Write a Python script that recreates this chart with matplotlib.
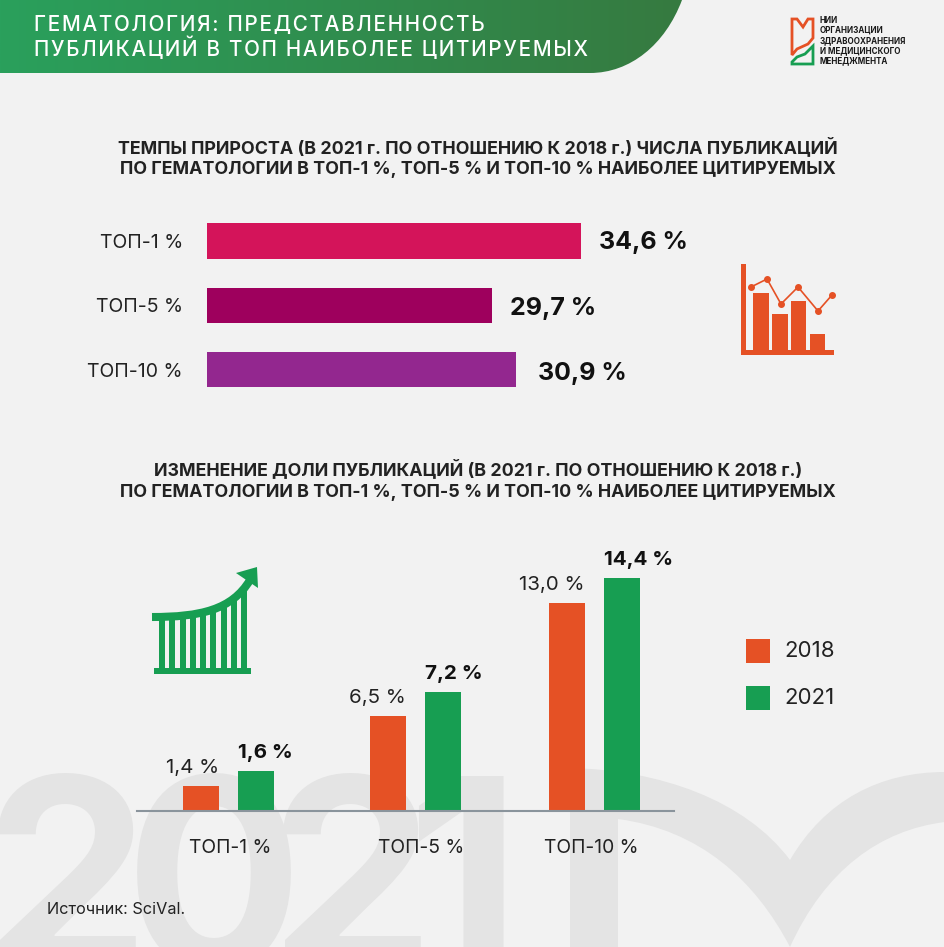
import numpy as np
import matplotlib
matplotlib.use('Agg')
import matplotlib.pyplot as plt
from matplotlib.bezier import BezierSegment
from matplotlib.patches import PathPatch, Polygon, Rectangle
from matplotlib.path import Path
from matplotlib.colors import LinearSegmentedColormap

FONT = 'Inter'
plt.rcParams['font.family'] = [FONT, 'DejaVu Sans']

# --- data ---
top_categories = ['ТОП-1 %', 'ТОП-5 %', 'ТОП-10 %']
top_values = [34.6, 29.7, 30.9]
# the bars in the picture are not to the scale of their labels, so lengths are read off separately
top_lengths = [34.6, 26.4, 28.6]
top_colors = ['#D4145A', '#9E005D', '#93278F']

bottom_categories = ['ТОП-1 %', 'ТОП-5 %', 'ТОП-10 %']
values_2018 = [1.4, 6.5, 13.0]
values_2021 = [1.6, 7.2, 14.4]
heights_2018 = [1.55, 5.87, 12.86]
heights_2021 = [2.47, 7.35, 14.4]
legend_years = ['2018', '2021']

header_lines = ['ГЕМАТОЛОГИЯ: ПРЕДСТАВЛЕННОСТЬ', 'ПУБЛИКАЦИЙ В ТОП НАИБОЛЕЕ ЦИТИРУЕМЫХ']
heading_top = ['ТЕМПЫ ПРИРОСТА (В 2021 г. ПО ОТНОШЕНИЮ К 2018 г.) ЧИСЛА ПУБЛИКАЦИЙ',
               'ПО ГЕМАТОЛОГИИ В ТОП-1 %, ТОП-5 % И ТОП-10 % НАИБОЛЕЕ ЦИТИРУЕМЫХ']
heading_bottom = ['ИЗМЕНЕНИЕ ДОЛИ ПУБЛИКАЦИЙ (В 2021 г. ПО ОТНОШЕНИЮ К 2018 г.)',
                  'ПО ГЕМАТОЛОГИИ В ТОП-1 %, ТОП-5 % И ТОП-10 % НАИБОЛЕЕ ЦИТИРУЕМЫХ']
logo_lines = ['НИИ', 'ОРГАНИЗАЦИИ', 'ЗДРАВООХРАНЕНИЯ', 'И МЕДИЦИНСКОГО', 'МЕНЕДЖМЕНТА']
source_text = 'Источник: SciVal.'

# --- colours ---
BG = '#F2F2F2'
WATERMARK = '#E4E4E4'
ORANGE = '#E55125'
GREEN = '#179E52'

W, H = 945, 947


def fmt(v):
    return f'{v:.1f}'.replace('.', ',') + ' %'


def px_axes(fig, x0, y0, x1, y1, **kw):
    """Оси по пиксельному прямоугольнику (y сверху вниз)."""
    return fig.add_axes([x0 / W, 1 - y1 / H, (x1 - x0) / W, (y1 - y0) / H], **kw)


fig = plt.figure(figsize=(W / 100, H / 100), dpi=100, facecolor=BG)

# overlay in pixel coordinates for everything that is not a chart
bg = fig.add_axes([0, 0, 1, 1], zorder=0)
bg.set_xlim(0, W)
bg.set_ylim(H, 0)
bg.axis('off')

# --- watermark ---
for ch, x in zip('2021', [67, 214, 352, 463]):
    bg.text(x, 968, ch, fontsize=190, fontweight='bold', color=WATERMARK,
            ha='center', va='baseline', clip_on=True)
C4 = Path.CURVE4
mark = Path([(570, 768), (660, 770), (745, 800), (790, 860),
             (825, 800), (880, 772), (945, 772), (945, 822),
             (880, 830), (825, 870), (790, 947),
             (755, 880), (700, 830), (618, 819),
             (618, 947), (570, 947), (570, 768)],
            [Path.MOVETO, C4, C4, C4, C4, C4, C4, Path.LINETO, C4, C4, C4, C4, C4, C4,
             Path.LINETO, Path.LINETO, Path.CLOSEPOLY])
bg.add_patch(PathPatch(mark, fc=WATERMARK, ec='none'))

# --- header with gradient ---
grad = LinearSegmentedColormap.from_list('hdr', ['#2AA05C', '#367A40'])
im = bg.imshow(np.linspace(0, 1, 256).reshape(1, -1), cmap=grad, extent=(0, 682, 73, 0),
               aspect='auto', zorder=2)
hdr_path = Path([(0, 0), (682, 0), (665, 45), (630, 73), (590, 73), (0, 73), (0, 0)],
                [Path.MOVETO, Path.LINETO, C4, C4, C4, Path.LINETO, Path.CLOSEPOLY])
hdr_patch = PathPatch(hdr_path, transform=bg.transData, fc='none', ec='none')
bg.add_patch(hdr_patch)
im.set_clip_path(hdr_patch)
bg.set_xlim(0, W)
bg.set_ylim(H, 0)

for line, y in zip(header_lines, [25, 48]):
    spaced = '\u200a'.join(line)
    bg.text(34, y, spaced, color='white', fontsize=14.9, fontweight='medium', va='center', zorder=3)

# --- logo ---
bg.add_patch(Polygon([(792, 19), (797, 19), (803, 27), (808, 19), (813, 19), (813, 38), (808, 44),
                      (797, 49), (792, 55)],
                     closed=True, fc='none', ec=ORANGE, lw=2, zorder=3))
bg.add_patch(Polygon([(792, 64), (813, 64), (813, 46), (805, 54), (797, 57), (792, 62)],
                     closed=True, fc='none', ec=GREEN, lw=2, zorder=3))
for line, y in zip(logo_lines, [20.5, 30.5, 40.5, 50.5, 60.5]):
    bg.text(820, y, line, fontsize=5.8, fontweight='bold', color='#1A1A1A', va='center', zorder=3)

# --- headings ---
for line, y in zip(heading_top, [147, 169]):
    bg.text(478, y, line, fontsize=12.85, fontweight='bold', color='#222222', ha='center', va='center')
for line, y in zip(heading_bottom, [469, 492]):
    bg.text(478, y, line, fontsize=12.85, fontweight='bold', color='#222222', ha='center', va='center')

# --- orange chart icon ---
bg.add_patch(Rectangle((741, 264), 5, 91, fc=ORANGE, ec='none'))
bg.add_patch(Rectangle((741, 350), 93, 5, fc=ORANGE, ec='none'))
for x0, x1, top in [(753, 769, 293), (772, 788, 314), (791, 806, 301), (810, 825, 334)]:
    bg.add_patch(Rectangle((x0, top), x1 - x0, 350 - top, fc=ORANGE, ec='none'))
bg.plot([751, 767, 781, 798, 818, 832], [287, 279, 304, 287, 311, 295], color=ORANGE, lw=1.2,
        marker='o', ms=4)

# --- green growth icon ---
bg.add_patch(Rectangle((154, 668), 97, 6, fc=GREEN, ec='none'))
curve_pts = [(152, 617), (200, 617), (232, 610), (250, 580)]
bg.add_patch(PathPatch(Path(curve_pts, [Path.MOVETO, C4, C4, C4]), fc='none', ec=GREEN, lw=5.8,
                       capstyle='butt'))
curve_xy = BezierSegment(np.array(curve_pts, dtype=float))(np.linspace(0, 1, 60))
for k in range(9):
    x0 = 159 + k * 10.25
    top = np.interp(x0 + 3, curve_xy[:, 0], curve_xy[:, 1])
    bg.add_patch(Rectangle((x0, top), 6, 669 - top, fc=GREEN, ec='none'))
bg.add_patch(Polygon([(257, 567), (236, 573), (258, 588)], closed=True, fc=GREEN, ec='none'))

# --- legend ---
for year, color, y in zip(legend_years, [ORANGE, GREEN], [651, 698]):
    bg.add_patch(Rectangle((746, y - 12), 24, 24, fc=color, ec='none'))
    bg.text(784, y, year, fontsize=16, color='#222222', va='center')

bg.text(47, 909, source_text, fontsize=11.7, color='#222222', va='center')

# --- top chart ---
ax1 = px_axes(fig, 207, 209, 607, 401.75, zorder=1)
ax1.patch.set_visible(False)
y_pos = np.arange(len(top_categories))
ax1.barh(y_pos, top_lengths, height=0.553, color=top_colors)
ax1.set_xlim(0, 37)
ax1.set_ylim(2.5, -0.5)
ax1.set_yticks(y_pos, top_categories, fontsize=14, color='#222222')
ax1.tick_params(axis='y', length=0, pad=17.3)
ax1.set_xticks([])
for s in ax1.spines.values():
    s.set_visible(False)
for y, length, val, dx, dy in zip(y_pos, top_lengths, top_values, [13, 13, 16], [-1, -2, -3]):
    ax1.annotate(fmt(val), (length, y), xytext=(dx, dy), textcoords='offset points',
                 fontsize=18, fontweight='bold', color='#111111', va='center', annotation_clip=False)

# --- bottom chart ---
ax2 = px_axes(fig, 137, 552, 674, 811, zorder=1)
ax2.patch.set_visible(False)
group_x = np.array([228.5, 415.5, 594.5])
ax2.bar(group_x - 27.5, heights_2018, width=36, color=ORANGE)
ax2.bar(group_x + 27.5, heights_2021, width=36, color=GREEN)
ax2.set_xlim(137, 674)
ax2.set_ylim(0, 16)
ax2.set_yticks([])
# labels under the groups are not quite centred in the picture
ax2.set_xticks([230, 421, 591.5], bottom_categories, fontsize=13.9, color='#222222')
ax2.tick_params(axis='x', length=0, pad=20.5)
for name, s in ax2.spines.items():
    s.set_visible(name == 'bottom')
ax2.spines['bottom'].set_color('#8A949C')
ax2.spines['bottom'].set_linewidth(1.5)
for x, h, val in zip(group_x - 27.5, heights_2018, values_2018):
    ax2.annotate(fmt(val), (x + 18, h), xytext=(0, 13), textcoords='offset points',
                 fontsize=14.8, color='#222222', ha='right', va='center', annotation_clip=False)
for x, h, val in zip(group_x + 27.5, heights_2021, values_2021):
    ax2.annotate(fmt(val), (x - 18, h), xytext=(0, 13), textcoords='offset points',
                 fontsize=14.8, fontweight='bold', color='#111111', ha='left', va='center', annotation_clip=False)

fig.savefig('out.png', dpi=100, facecolor=BG)
